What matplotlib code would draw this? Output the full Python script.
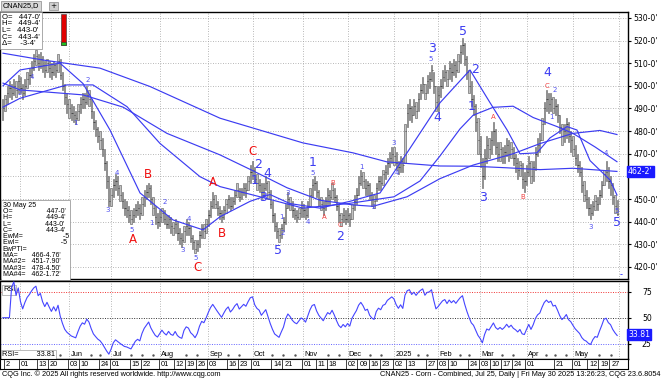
import numpy as np
import pandas as pd
import matplotlib
matplotlib.use("Agg")
import matplotlib.pyplot as plt
from matplotlib.ticker import FixedLocator, FuncFormatter

plt.rcParams['font.family'] = ['DejaVu Sans']
NARROW = ['Liberation Sans Narrow', 'Liberation Sans', 'DejaVu Sans']

# ---- trading calendar (CBOT closed days removed) ----
holidays = ["2024-05-27", "2024-06-19", "2024-07-04", "2024-09-02", "2024-11-28",
            "2024-12-25", "2025-01-01", "2025-01-09", "2025-01-20", "2025-02-17",
            "2025-04-18", "2025-05-26"]
days = pd.bdate_range("2024-04-19", "2025-05-30")
days = days[~days.isin(pd.to_datetime(holidays))]

# ---- daily bars (cents/bu) ----
closes = (
    [490, 494, 497, 499, 497, 500, 498, 502] +
    [499, 497, 500, 503, 505, 508, 511, 513, 510, 512, 509, 507, 510, 508, 506, 509, 507, 511, 505, 500, 495, 492] +
    [490, 488, 487, 486, 489, 492, 494, 493, 496, 494, 489, 484, 481, 478, 476, 472, 466, 458, 449] +
    [452, 456, 458, 455, 452, 449, 446, 445, 443, 441, 443, 445, 446, 444, 448, 451, 453, 455, 450, 446, 442, 440] +
    [442, 444, 441, 439, 441, 438, 437, 439, 435, 433, 432, 436, 438, 437, 433, 431, 428, 430, 434, 437, 436, 439] +
    [443, 447, 450, 448, 446, 444, 442, 445, 448, 450, 447, 449, 452, 454, 451, 453, 455, 454, 458, 462] +
    [463, 459, 457, 456, 453, 455, 457, 453, 448, 443, 438, 436, 434, 437, 440, 446, 450, 448, 445, 443, 442, 444, 446] +
    [445, 443, 447, 452, 456, 457, 453, 450, 448, 446, 449, 452, 451, 454, 451, 447, 443, 441, 443, 441] +
    [443, 441, 446, 449, 452, 457, 460, 458, 455, 456, 452, 450, 449, 455, 458, 457, 461, 462, 466, 468, 470] +
    [469, 466, 464, 467, 465, 480, 488, 490, 487, 491, 489, 494, 498, 501, 497, 502, 503, 507, 500, 493] +
    [496, 500, 504, 506, 503, 508, 506, 509, 507, 511, 515, 518, 512, 506, 500, 494, 491, 484, 476] +
    [470, 460, 468, 474, 472, 476, 480, 473, 470, 472, 469, 471, 474, 470, 472, 468, 466, 463, 465, 459, 458] +
    [462, 466, 460, 464, 470, 474, 476, 483, 490, 494, 492, 494, 490, 491, 487, 482, 478, 480, 483, 478, 476] +
    [472, 468, 465, 462, 456, 452, 450, 446, 444, 447, 449, 448, 452, 456, 461, 462, 458, 456, 451, 447, 443.5]
)
highs = (
    [494, 496, 500, 502, 501, 503, 502, 505] +
    [504, 501, 503, 506, 508, 511, 514, 516, 514, 515, 513, 511, 512, 511, 510, 511, 510, 514, 512, 506, 501, 497] +
    [494, 492, 491, 489, 492, 495, 497, 497, 500, 498, 494, 489, 485, 482, 480, 477, 472, 467, 460] +
    [455, 459, 461, 460, 456, 453, 450, 449, 447, 445, 446, 448, 449, 448, 451, 454, 456, 457, 456, 451, 447, 444] +
    [445, 446, 445, 443, 443, 442, 440, 441, 440, 437, 435, 438, 441, 440, 438, 434, 432, 432, 436, 439, 439, 441] +
    [445, 449, 453, 452, 449, 447, 445, 447, 450, 452, 451, 451, 454, 457, 455, 455, 457, 457, 460, 465] +
    [467, 464, 461, 459, 457, 457, 460, 458, 454, 449, 444, 440, 437, 439, 442, 448, 453, 451, 449, 446, 445, 446, 449] +
    [448, 446, 449, 455, 459, 460, 458, 454, 451, 449, 451, 455, 454, 457, 455, 452, 448, 444, 446, 445] +
    [446, 444, 448, 452, 455, 460, 463, 462, 459, 458, 457, 453, 452, 457, 460, 460, 463, 465, 468, 471, 473] +
    [473, 471, 467, 469, 468, 483, 492, 494, 491, 494, 493, 497, 501, 504, 501, 505, 506, 509, 506, 500] +
    [500, 503, 507, 509, 507, 511, 510, 512, 511, 514, 518, 521, 519, 513, 507, 502, 496, 492, 486] +
    [478, 468, 472, 478, 477, 480, 484, 481, 475, 475, 473, 474, 477, 476, 475, 473, 470, 468, 467, 466, 462] +
    [465, 469, 467, 467, 473, 477, 479, 486, 493, 498, 497, 497, 495, 494, 492, 487, 483, 483, 486, 484, 480] +
    [478, 474, 470, 467, 464, 458, 454, 451, 448, 449, 452, 451, 454, 458, 463, 467, 464, 460, 457, 452, 449.5]
)
lows = (
    [485, 489, 492, 495, 494, 496, 495, 497] +
    [497, 494, 496, 499, 501, 504, 507, 509, 507, 508, 506, 504, 506, 504, 503, 505, 504, 506, 503, 498, 492, 488] +
    [486, 485, 484, 483, 485, 488, 490, 490, 492, 491, 486, 481, 478, 475, 472, 469, 463, 455, 447] +
    [447, 451, 454, 452, 449, 446, 443, 442, 440, 439, 440, 442, 443, 441, 443, 447, 450, 451, 448, 443, 439, 437] +
    [438, 440, 439, 437, 437, 435, 434, 435, 432, 430, 429, 431, 434, 434, 431, 428, 426, 427, 429, 433, 433, 435] +
    [438, 442, 446, 446, 443, 441, 440, 441, 444, 446, 445, 446, 448, 451, 449, 450, 452, 451, 454, 457] +
    [459, 457, 454, 453, 450, 451, 454, 450, 446, 440, 436, 433, 431, 433, 436, 439, 446, 445, 442, 441, 440, 441, 442] +
    [442, 441, 442, 447, 451, 454, 451, 447, 445, 443, 445, 448, 448, 450, 449, 445, 440, 438, 440, 439] +
    [440, 438, 441, 445, 448, 452, 456, 455, 452, 452, 450, 447, 446, 449, 454, 454, 456, 459, 461, 464, 466] +
    [465, 463, 461, 462, 462, 466, 482, 485, 484, 487, 486, 489, 494, 497, 494, 497, 499, 502, 497, 489] +
    [489, 495, 499, 502, 500, 503, 502, 505, 504, 506, 510, 514, 509, 503, 497, 491, 487, 480, 470] +
    [464, 455, 459, 466, 468, 470, 474, 470, 467, 467, 466, 466, 469, 467, 468, 465, 462, 459, 460, 455, 453] +
    [456, 460, 457, 458, 463, 469, 471, 476, 483, 489, 488, 489, 488, 487, 484, 479, 474, 475, 477, 475, 471] +
    [469, 465, 462, 460, 453, 449, 446, 443, 441, 443, 445, 445, 448, 451, 456, 458, 455, 452, 448, 444, 443]
)

# ---- moving averages (bar index, value) ----
ma200_idx = [0.1, 18.2, 44.0, 66.6, 98.3, 135.8, 158.5, 173.9, 197.8, 212.8, 228.2, 243.1, 258.0, 277.9]
ma200_val = [514.4, 511.4, 507.8, 499.7, 485.7, 474.8, 470.4, 466.4, 464.6, 464.5, 463.8, 463.0, 463.6, 462.2]
ma100_idx = [0.1, 7.8, 36.3, 54.4, 74.3, 98.3, 113.2, 128.6, 143.5, 158.5, 167.5, 182.9, 197.8,
             212.8, 230.9, 243.1, 258.0, 270.2, 277.9]
ma100_val = [501.2, 498.2, 496.0, 490.6, 479.0, 469.5, 462.5, 455.0, 449.5, 447.4, 446.8, 451.0, 459.0,
             465.0, 470.0, 474.5, 479.0, 480.3, 478.5]
ma50_idx = [0.1, 7.8, 29.0, 40.8, 56.2, 71.1, 89.2, 98.3, 116.4, 135.8, 156.2, 177.0, 188.8, 197.8,
            206.9, 212.8, 221.8, 230.9, 240.0, 250.8, 258.0, 268.0, 277.9]
ma50_val = [490.6, 494.5, 500.4, 500.4, 490.8, 474.6, 459.9, 455.5, 451.0, 446.0, 448.0, 451.0, 458.0, 469.0,
            481.0, 487.0, 490.5, 491.0, 486.0, 482.0, 479.0, 473.0, 466.5]
ma20_idx = [0.1, 7.8, 25.9, 36.3, 48.5, 62.1, 77.0, 90.6, 98.3, 111.9, 120.9, 129.96, 143.5, 157.1,
            170.7, 182.9, 197.8, 211.4, 220.5, 228.2, 234.0, 241.7, 247.6, 255.3, 259.8, 265.7, 274.8, 277.9]
ma20_val = [500.0, 507.0, 510.0, 501.0, 480.5, 452.7, 440.8, 436.4, 442.2, 449.0, 452.0, 448.0, 446.0, 449.0,
            452.7, 470.4, 492.5, 507.0, 492.5, 480.5, 470.0, 470.4, 477.0, 482.0, 480.5, 467.0, 458.4, 451.8]

# ---- wave count labels (bar index, price, text, style) ----
wave_labels = [
    (140.4, 466.0, "1", "big"), (152.6, 433.3, "2", "big"), (115.5, 465.1, "2", "big"),
    (114.1, 458.4, "1", "big"), (119.6, 461.5, "4", "big"), (117.7, 450.9, "3", "big"),
    (124.5, 427.5, "5", "big"), (194.2, 516.7, "3", "big"), (196.5, 485.8, "4", "big"),
    (208.2, 523.8, "5", "big"), (213.7, 507.0, "2", "big"), (212.3, 490.7, "1", "big"),
    (217.3, 450.9, "3", "big"), (246.3, 505.7, "4", "big"), (277.9, 439.5, "5", "big"),
    (58.9, 432.0, "A", "bigred"), (65.7, 460.7, "B", "bigred"), (87.9, 419.6, "C", "bigred"),
    (95.1, 457.1, "A", "bigred"), (99.2, 435.0, "B", "bigred"), (113.2, 470.8, "C", "bigred"),
    (13.2, 503.9, "4", "small"), (7.8, 496.9, "2", "small"), (38.6, 502.6, "2", "small"),
    (32.7, 483.6, "1", "small"), (47.6, 445.2, "3", "small"), (51.7, 461.5, "4", "small"),
    (58.5, 436.4, "5", "small"), (67.5, 439.5, "1", "small"), (73.4, 448.7, "2", "small"),
    (81.5, 427.5, "3", "small"), (84.3, 441.2, "4", "small"), (87.4, 424.0, "5", "small"),
    (126.3, 442.1, "1", "small"), (126.8, 435.0, "2", "small"), (129.1, 452.7, "3", "small"),
    (138.1, 439.9, "4", "small"), (140.4, 461.5, "5", "small"), (162.5, 464.2, "1", "small"),
    (168.0, 446.5, "2", "small"), (177.0, 474.8, "3", "small"), (178.4, 461.5, "4", "small"),
    (193.8, 511.9, "5", "small"), (248.1, 486.3, "1", "small"), (249.9, 498.2, "2", "small"),
    (266.2, 437.7, "3", "small"), (273.0, 470.4, "4", "small"), (277.9, 444.8, "5", "small"),
    (145.3, 442.1, "A", "smallred"), (149.4, 457.1, "B", "smallred"), (152.6, 438.6, "C", "smallred"),
    (221.8, 486.3, "A", "smallred"), (235.4, 450.9, "B", "smallred"), (246.3, 500.0, "C", "smallred"),
]

# ---- date axis ----
day_ticks = ["2024-04-22", "2024-05-01", "2024-05-13", "2024-05-20", "2024-06-03", "2024-06-10",
             "2024-06-24", "2024-07-01", "2024-07-15", "2024-07-22", "2024-08-01", "2024-08-12",
             "2024-08-19", "2024-08-26", "2024-09-03", "2024-09-16", "2024-09-23", "2024-10-01",
             "2024-10-14", "2024-10-21", "2024-11-01", "2024-11-11", "2024-11-18", "2024-12-02",
             "2024-12-09", "2024-12-16", "2024-12-23", "2025-01-02", "2025-01-13", "2025-01-27",
             "2025-02-03", "2025-02-10", "2025-02-24", "2025-03-03", "2025-03-10", "2025-03-17",
             "2025-03-24", "2025-04-01", "2025-04-21", "2025-05-01", "2025-05-12", "2025-05-19",
             "2025-05-27"]
day_labels = ["2"] + [d[-2:] for d in day_ticks[1:]]
month_starts = ["2024-06-03", "2024-07-01", "2024-08-01", "2024-09-03", "2024-10-01", "2024-11-01",
                "2024-12-02", "2025-01-02", "2025-02-03", "2025-03-03", "2025-04-01", "2025-05-01"]
month_labels = ["Jun", "Jul", "Aug", "Sep", "Oct", "Nov", "Dec", "2025", "Feb", "Mar", "Apr", "May"]

n = len(days)
assert n == len(closes) == len(highs) == len(lows), (n, len(closes), len(highs), len(lows))
x = np.arange(n)
pos = {d: i for i, d in enumerate(days)}
def idx(s):
    return pos[pd.Timestamp(s)]

# RSI (14, Wilder) from closes
c = pd.Series(closes, dtype=float)
delta = c.diff().fillna(0)
up = delta.clip(lower=0).ewm(alpha=1 / 14, adjust=False).mean()
dn = (-delta.clip(upper=0)).ewm(alpha=1 / 14, adjust=False).mean()
rsi = (100 - 100 / (1 + up / dn.replace(0, np.nan))).fillna(50)

W, H = 662, 379
fig = plt.figure(figsize=(W / 100, H / 100), dpi=100)
fig.patch.set_facecolor("white")

def px_axes(x0, y0, x1, y1):
    return fig.add_axes([x0 / W, 1 - y1 / H, (x1 - x0) / W, (y1 - y0) / H])

XL = (-1.26, 282.9)
grid_kw = dict(color="#a0a0a0", linestyle=(0, (1, 2)), linewidth=0.6)
blue = "#3c3cf2"
fs = 5.6
nfs = 5.3
month_pos = [idx(d) for d in month_starts]
grid_pos = [idx("2024-05-01")] + month_pos + [n]

# ---- main price panel ----
ax = px_axes(0, 12, 628, 279)
ax.set_xlim(*XL)
ax.set_ylim(414.7, 532.6)
ax.bar(x, np.array(highs) - np.array(lows), bottom=lows, width=0.55,
       color="#c2c2c2", edgecolor="#555555", linewidth=0.4, zorder=2)
ax.hlines(closes, x, x + 0.55, color="#333333", linewidth=0.55, zorder=3)
for xi, vals in ((ma200_idx, ma200_val), (ma100_idx, ma100_val), (ma50_idx, ma50_val), (ma20_idx, ma20_val)):
    ax.plot(xi, vals, color=blue, linewidth=0.85, zorder=4)

styles = {"big": (blue, 9), "small": ("#5050f0", 5), "bigred": ("#f01010", 8.5), "smallred": ("#f04040", 5)}
for j, p, t, s in wave_labels:
    col, size = styles[s]
    ax.text(j, p, t, color=col, fontsize=size, ha="center", va="center", zorder=6)
ax.text(n + 0.8, 416.5, "-", color="#1a1aff", fontsize=6, ha="center", va="center", zorder=6)

ax.yaxis.tick_right()
ax.set_yticks(np.arange(420, 531, 10))
ax.yaxis.set_major_formatter(FuncFormatter(lambda v, _: "" if v == 460 else f"{int(v)}-0'"))
ax.tick_params(axis="y", labelsize=fs, length=2, pad=2)
ax.xaxis.set_major_locator(FixedLocator(grid_pos))
ax.tick_params(axis="x", length=0, labelbottom=False)
ax.grid(True, **grid_kw)
ax.set_axisbelow(True)
for sp in ax.spines.values():
    sp.set_linewidth(1.0)

# last value flag (covers the 460 tick label, as in the original)
ax.text(1.0, (462.17 - 414.7) / (532.6 - 414.7), "462-2'", transform=ax.transAxes, fontsize=fs,
        color="white", ha="left", va="center",
        bbox=dict(boxstyle="square,pad=0.15", fc="#1a1aff", ec="#1a1aff"), clip_on=False)

# top-left quote box
ax.text(0.003, 0.993, "O=   447-0'\nH=   449-4'\nL=   443-0'\nC=   443-4'\nΔ=    -3-4'",
        transform=ax.transAxes, fontsize=5.6, family=NARROW, va="top", ha="left",
        linespacing=0.92, zorder=7,
        bbox=dict(boxstyle="square,pad=0.25", fc="white", ec="#888888", lw=0.5))
ax.add_patch(plt.Rectangle((0.097, 0.875), 0.008, 0.118, transform=ax.transAxes,
                           fc="#e00000", ec="#333333", lw=0.4, zorder=8))
ax.add_patch(plt.Rectangle((0.097, 0.875), 0.008, 0.012, transform=ax.transAxes,
                           fc="#20c020", ec="#333333", lw=0.4, zorder=9))

# bottom-left data window
info = ("30 May 25\nO=                 447-0'\nH=                 449-4'\nL=                 443-0'\n"
        "C=                 443-4'\nEwM=                    -5\nEwI=                     -5\nEwPTI=\n"
        "MA=       466-4.76'\nMA#2=   451-7.90'\nMA#3=   478-4.50'\nMA#4=   462-1.72'")
ax.text(0.004, 0.004, info, transform=ax.transAxes, fontsize=5.0, family=NARROW, va="bottom",
        ha="left", linespacing=0.86, zorder=7,
        bbox=dict(boxstyle="square,pad=0.25", fc="white", ec="#888888", lw=0.5))

# ---- RSI panel ----
ar = px_axes(0, 281, 628, 359)
ar.set_xlim(*XL)
ar.set_ylim(10.3, 85.3)
ar.plot(x, rsi, color="#4545ff", linewidth=0.8, zorder=4)
ar.axhline(75, color="#f03030", linestyle=(0, (1, 1.5)), linewidth=0.7)
ar.axhline(50, color="#333333", linestyle=(0, (1, 1.5)), linewidth=0.7)
ar.axhline(25, color="#6060ff", linestyle=(0, (1, 1.5)), linewidth=0.7)
ar.yaxis.tick_right()
ar.set_yticks([25, 50, 75])
ar.tick_params(axis="y", labelsize=fs, length=2, pad=8)
ar.xaxis.set_major_locator(FixedLocator(grid_pos))
ar.tick_params(axis="x", length=0, labelbottom=False)
ar.grid(True, axis="x", **grid_kw)
for sp in ar.spines.values():
    sp.set_linewidth(1.0)
ar.text(0.005, 0.93, "RSI", transform=ar.transAxes, fontsize=nfs, family=NARROW, va="top", ha="left",
        bbox=dict(boxstyle="square,pad=0.15", fc="white", ec="#888888", lw=0.4))
ar.text(1.0, (33.81 - 10.3) / 75.0, "33.81", transform=ar.transAxes, fontsize=fs, color="white",
        ha="left", va="center", bbox=dict(boxstyle="square,pad=0.15", fc="#1a1aff", ec="#1a1aff"),
        clip_on=False)
ar.text(0.003, 0.01, "RSI=         33.81", transform=ar.transAxes, fontsize=nfs, family=NARROW,
        va="bottom", ha="left", zorder=7,
        bbox=dict(boxstyle="square,pad=0.15", fc="white", ec="#888888", lw=0.4))
for d, lab in zip(month_starts, month_labels):
    ar.text(idx(d) + 0.6, 11.5, lab, fontsize=nfs, family=NARROW, ha="left", va="bottom", zorder=6)
# weekly marker dots along the bottom of the RSI pane, kept clear of the month names
week_first = [i for i in range(1, n) if days[i].weekday() < days[i - 1].weekday()]
week_dots = [i for i in week_first if i > 24 and all(not (m - 2 <= i <= m + 8) for m in month_pos)]
ar.plot(week_dots, [14.3] * len(week_dots), linestyle="none", marker="s", markersize=0.7,
        color="#555555", zorder=5)

# ---- day label strip ----
ad = px_axes(0, 359, 628, 369)
ad.set_xlim(*XL)
ad.set_ylim(0, 1)
ad.set_xticks([])
ad.set_yticks([])
for d, lab in zip(day_ticks, day_labels):
    j = idx(d)
    ad.plot([j - 0.5, j - 0.5], [0.05, 0.95], color="#222222", linewidth=0.6)
    ad.text(j + 0.3, 0.45, lab, fontsize=nfs, family=NARROW, ha="left", va="center")

# ---- top tab and footer ----
fig.text(3 / W, 1 - 6 / H, "CNAN25,D", fontsize=nfs, family=NARROW, va="center", ha="left",
         bbox=dict(boxstyle="square,pad=0.25", fc="#d8d8d8", ec="#888888", lw=0.5))
fig.text(50 / W, 1 - 6 / H, "+", fontsize=nfs, va="center", ha="left",
         bbox=dict(boxstyle="square,pad=0.2", fc="#cfcfcf", ec="#888888", lw=0.5))
fig.text(2 / W, 1 - 374 / H, "CQG Inc. © 2025 All rights reserved worldwide. http://www.cqg.com",
         fontsize=nfs, family=NARROW, va="center", ha="left")
fig.text(660 / W, 1 - 374 / H,
         "CNAN25 - Corn - Combined, Jul 25, Daily | Fri May 30 2025 13:26:23, CQG 23.6.8054",
         fontsize=nfs, family=NARROW, va="center", ha="right")

fig.savefig("out.png", dpi=100)
